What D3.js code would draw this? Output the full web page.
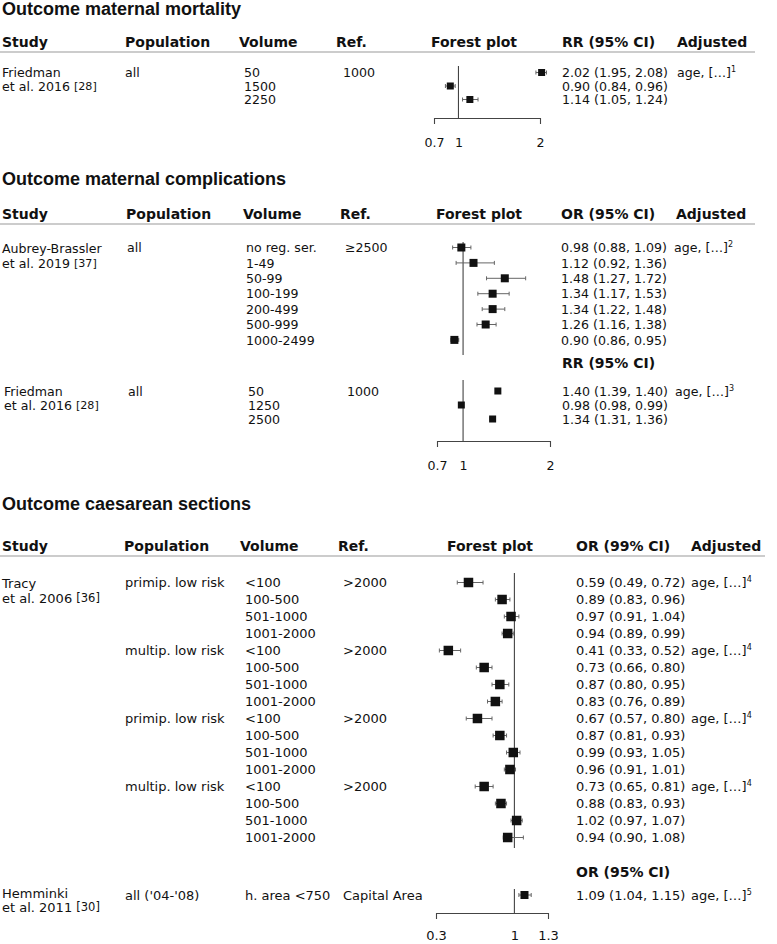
<!DOCTYPE html>
<html>
<head>
<meta charset="utf-8">
<script src="https://cdn.jsdelivr.net/npm/d3@7"></script>
<style>
  body { margin: 0; background: #fff; }
  text { font-family: "DejaVu Sans", sans-serif; fill: #111; }
  .title { font-family: "Liberation Sans", Arial, sans-serif; font-weight: bold; font-size: 18px; }
  .head { font-weight: bold; font-size: 14px; }
</style>
</head>
<body>
<div id="chart"></div>
<script>
// ---- Outcome maternal mortality
const mortHeaders = ["Study", "Population", "Volume", "Ref.", "Forest plot", "RR (95% CI)", "Adjusted"];
const mortVolume = ["50", "1500", "2250"];
const mortEst = [2.02, 0.90, 1.14];
const mortLow = [1.95, 0.84, 1.05];
const mortHigh = [2.08, 0.96, 1.24];
const mortTicks = [0.7, 1, 2];

// ---- Outcome maternal complications
const compHeaders = ["Study", "Population", "Volume", "Ref.", "Forest plot", "OR (95% CI)", "Adjusted"];
const aubVolume = ["no reg. ser.", "1-49", "50-99", "100-199", "200-499", "500-999", "1000-2499"];
const aubEst = [0.98, 1.12, 1.48, 1.34, 1.34, 1.26, 0.90];
const aubLow = [0.88, 0.92, 1.27, 1.17, 1.22, 1.16, 0.86];
const aubHigh = [1.09, 1.36, 1.72, 1.53, 1.48, 1.38, 0.95];
const friedVolume = ["50", "1250", "2500"];
const friedEst = [1.40, 0.98, 1.34];
const friedLow = [1.39, 0.98, 1.31];
const friedHigh = [1.40, 0.99, 1.36];
const compTicks = [0.7, 1, 2];

// ---- Outcome caesarean sections
const csHeaders = ["Study", "Population", "Volume", "Ref.", "Forest plot", "OR (99% CI)", "Adjusted"];
const tracyPop = ["primip. low risk", "multip. low risk", "primip. low risk", "multip. low risk"];
const tracyVolume = ["<100", "100-500", "501-1000", "1001-2000",
                     "<100", "100-500", "501-1000", "1001-2000",
                     "<100", "100-500", "501-1000", "1001-2000",
                     "<100", "100-500", "501-1000", "1001-2000"];
const tracyEst  = [0.59, 0.89, 0.97, 0.94, 0.41, 0.73, 0.87, 0.83, 0.67, 0.87, 0.99, 0.96, 0.73, 0.88, 1.02, 0.94];
const tracyLow  = [0.49, 0.83, 0.91, 0.89, 0.33, 0.66, 0.80, 0.76, 0.57, 0.81, 0.93, 0.91, 0.65, 0.83, 0.97, 0.90];
const tracyHigh = [0.72, 0.96, 1.04, 0.99, 0.52, 0.80, 0.95, 0.89, 0.80, 0.93, 1.05, 1.01, 0.81, 0.93, 1.07, 1.08];
const hemEst = [1.09];
const hemLow = [1.04];
const hemHigh = [1.15];
const csTicks = [0.3, 1, 1.3];

const fmt = d3.format(".2f");

const svg = d3.select("#chart").append("svg")
    .attr("width", 777)
    .attr("height", 944);

function title(txt, y) {
    svg.append("text").attr("class", "title").attr("x", 2).attr("y", y).text(txt);
}

function headerRow(labels, xs, y, lineEnd) {
    labels.forEach((l, i) => {
        svg.append("text").attr("class", "head")
            .attr("x", xs[i]).attr("y", y)
            .attr("text-anchor", i == 4 ? "middle" : "start")
            .text(l);
    });
    svg.append("line")
        .attr("x1", 0).attr("x2", lineEnd)
        .attr("y1", y + 5).attr("y2", y + 5)
        .attr("stroke", "#999").attr("stroke-width", 1.2);
}

function study(name, cite, x, y, gap, fs) {
    svg.append("text").attr("x", x).attr("y", y).style("font-size", fs + "px").text(name);
    const t = svg.append("text").attr("x", x).attr("y", y + gap).style("font-size", fs + "px");
    t.append("tspan").text("et al. " + cite[0] + " ");
    t.append("tspan").style("font-size", (fs - 1.5) + "px").attr("dy", -1.5).text(cite[1]);
}

function column(values, x, y, fs) {
    svg.append("g").selectAll("text")
        .data(values)
        .join("text")
        .attr("x", x)
        .attr("y", (d, i) => y(i))
        .attr("dy", "0.38em")
        .style("font-size", fs + "px")
        .text(d => d);
}

function adjusted(x, y, note, fs) {
    const t = svg.append("text").attr("x", x).attr("y", y).attr("dy", "0.38em").style("font-size", fs + "px");
    t.append("tspan").text("age, […]");
    t.append("tspan").style("font-size", "8px").attr("dy", -5).text(note);
}

function forest(x, y, est, low, high, box, refTop, refBottom) {
    svg.append("line")
        .attr("x1", x(1)).attr("x2", x(1))
        .attr("y1", refTop).attr("y2", refBottom)
        .attr("stroke", "#444").attr("stroke-width", 1.1);

    const g = svg.append("g");
    const rows = g.selectAll("g").data(est).join("g");
    rows.append("line")
        .attr("x1", (d, i) => x(low[i])).attr("x2", (d, i) => x(high[i]))
        .attr("y1", (d, i) => y(i)).attr("y2", (d, i) => y(i))
        .attr("stroke", "#666").attr("stroke-width", 1);
    rows.append("line")
        .attr("x1", (d, i) => x(low[i])).attr("x2", (d, i) => x(low[i]))
        .attr("y1", (d, i) => y(i) - 2).attr("y2", (d, i) => y(i) + 2)
        .attr("stroke", "#666");
    rows.append("line")
        .attr("x1", (d, i) => x(high[i])).attr("x2", (d, i) => x(high[i]))
        .attr("y1", (d, i) => y(i) - 2).attr("y2", (d, i) => y(i) + 2)
        .attr("stroke", "#666");
    rows.append("rect")
        .attr("x", d => x(d) - box / 2)
        .attr("y", (d, i) => y(i) - box / 2)
        .attr("width", box).attr("height", box)
        .attr("fill", "#111");
}

function ciText(est, low, high, xpos, y, fs) {
    column(est.map((d, i) => `${fmt(d)} (${fmt(low[i])}, ${fmt(high[i])})`), xpos, y, fs);
}

function axis(x, ticks, yAxis, fs, pad) {
    const g = svg.append("g")
        .attr("transform", `translate(0,${yAxis})`)
        .call(d3.axisBottom(x).tickValues(ticks).tickFormat(d => d)
            .tickSizeInner(0).tickSizeOuter(6).tickPadding(pad));
    g.select(".domain").attr("stroke", "#444").attr("stroke-width", 1.1);
    g.selectAll("text").attr("font-family", "DejaVu Sans").style("font-size", fs + "px").attr("fill", "#111");
}

function rowScale(n, top, step) {
    return d3.scalePoint().domain(d3.range(n)).range([top, top + step * (n - 1)]);
}

// ================= Section 1
title("Outcome maternal mortality", 15);
headerRow(mortHeaders, [2, 125, 239, 336, 474, 562, 677], 47, 755);
const x1 = d3.scaleLinear().domain([0.7, 2]).range([434, 540]);
const y1 = rowScale(mortEst.length, 72.5, 13.5);
study("Friedman", ["2016", "[28]"], 2, 77, 14, 12.6);
column(["all"], 125, y1, 12.6);
column(mortVolume, 244, y1, 12.6);
column(["1000"], 343, y1, 12.6);
forest(x1, y1, mortEst, mortLow, mortHigh, 7, 66, 118);
ciText(mortEst, mortLow, mortHigh, 562, y1, 12.6);
adjusted(677, y1(0), "1", 12.6);
axis(x1, mortTicks, 118, 12.6, 20);

// ================= Section 2
title("Outcome maternal complications", 185);
headerRow(compHeaders, [2, 126, 243, 340, 479, 561, 676], 219, 755);
const x2 = d3.scaleLinear().domain([0.7, 2]).range([437, 550]);
const y2a = rowScale(aubEst.length, 247.5, 15.4);
study("Aubrey-Brassler", ["2019", "[37]"], 2, 253, 15, 12.6);
column(["all"], 127, y2a, 12.6);
column(aubVolume, 246, y2a, 12.6);
column(["≥2500"], 345, y2a, 12.6);
forest(x2, y2a, aubEst, aubLow, aubHigh, 8, 242, 355);
ciText(aubEst, aubLow, aubHigh, 561, y2a, 12.6);
adjusted(674, y2a(0), "2", 12.6);

svg.append("text").attr("class", "head").attr("x", 562).attr("y", 368).text("RR (95% CI)");
const y2b = rowScale(friedEst.length, 391, 14);
study("Friedman", ["2016", "[28]"], 4, 396, 14, 12.6);
column(["all"], 128, y2b, 12.6);
column(friedVolume, 248, y2b, 12.6);
column(["1000"], 347, y2b, 12.6);
forest(x2, y2b, friedEst, friedLow, friedHigh, 7, 380, 441);
ciText(friedEst, friedLow, friedHigh, 562, y2b, 12.6);
adjusted(675, y2b(0), "3", 12.6);
axis(x2, compTicks, 441, 12.6, 20);

// ================= Section 3
title("Outcome caesarean sections", 510);
headerRow(csHeaders, [2, 124, 240, 338, 490, 576, 691], 551, 765);
const x3 = d3.scaleLinear().domain([0.3, 1.3]).range([436, 548]);
const y3a = rowScale(tracyEst.length, 582.5, 17);
study("Tracy", ["2006", "[36]"], 2, 588, 15, 13);
svg.append("g").selectAll("text")
    .data(tracyPop)
    .join("text")
    .attr("x", 125)
    .attr("y", (d, i) => y3a(i * 4))
    .attr("dy", "0.38em")
    .style("font-size", "13px")
    .text(d => d);
column(tracyVolume, 245, y3a, 13);
svg.append("g").selectAll("text")
    .data(tracyPop)
    .join("text")
    .attr("x", 343)
    .attr("y", (d, i) => y3a(i * 4))
    .attr("dy", "0.38em")
    .style("font-size", "13px")
    .text(">2000");
forest(x3, y3a, tracyEst, tracyLow, tracyHigh, 9.5, 573, 848);
ciText(tracyEst, tracyLow, tracyHigh, 576, y3a, 13);
tracyPop.forEach((p, i) => adjusted(691, y3a(i * 4), "4", 13));

svg.append("text").attr("class", "head").attr("x", 576).attr("y", 877).text("OR (95% CI)");
const y3b = rowScale(hemEst.length, 895, 17);
study("Hemminki", ["2011", "[30]"], 2, 898, 14, 13);
column(["all ('04-'08)"], 125, y3b, 13);
column(["h. area <750"], 245, y3b, 13);
column(["Capital Area"], 343, y3b, 13);
forest(x3, y3b, hemEst, hemLow, hemHigh, 8, 889, 913);
ciText(hemEst, hemLow, hemHigh, 576, y3b, 13);
adjusted(691, y3b(0), "5", 13);
axis(x3, csTicks, 913, 13, 18);
</script>
</body>
</html>
